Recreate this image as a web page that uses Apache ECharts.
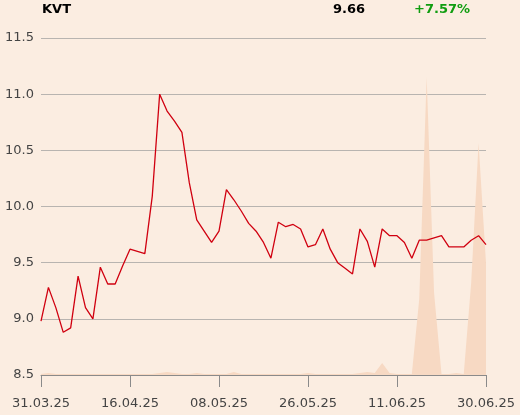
<!DOCTYPE html>
<html><head><meta charset="utf-8">
<script src="https://cdn.jsdelivr.net/npm/echarts@6/dist/echarts.min.js"></script>
<style>html,body{margin:0;padding:0;background:#fbede1;}#c{width:520px;height:415px;}</style>
</head><body><div id="c"></div>
<script>
const ticker = 'KVT';
const dates = ['31.03.25','01.04.25','02.04.25','03.04.25','04.04.25','07.04.25','08.04.25','09.04.25','10.04.25','11.04.25','14.04.25','15.04.25','16.04.25','17.04.25','22.04.25','23.04.25','24.04.25','25.04.25','28.04.25','29.04.25','30.04.25','05.05.25','06.05.25','07.05.25','08.05.25','09.05.25','12.05.25','13.05.25','14.05.25','15.05.25','16.05.25','19.05.25','20.05.25','21.05.25','22.05.25','23.05.25','26.05.25','27.05.25','28.05.25','29.05.25','30.05.25','02.06.25','03.06.25','04.06.25','05.06.25','06.06.25','09.06.25','10.06.25','11.06.25','12.06.25','13.06.25','16.06.25','17.06.25','18.06.25','20.06.25','23.06.25','24.06.25','25.06.25','26.06.25','27.06.25','30.06.25'];
const prices = [8.98,9.28,9.10,8.88,8.92,9.38,9.10,9.00,9.46,9.31,9.31,9.47,9.62,9.60,9.58,10.09,11.00,10.85,10.76,10.66,10.21,9.88,9.78,9.68,9.78,10.15,10.06,9.96,9.85,9.78,9.68,9.54,9.86,9.82,9.84,9.80,9.64,9.66,9.80,9.62,9.50,9.45,9.40,9.80,9.69,9.46,9.80,9.74,9.74,9.68,9.54,9.70,9.70,9.72,9.74,9.64,9.64,9.64,9.70,9.74,9.66];
const volumes = [100,200,100,100,100,100,100,100,100,100,100,100,100,100,100,100,200,300,200,100,100,200,100,100,100,100,300,100,100,100,100,100,100,100,100,100,200,100,100,100,100,100,100,200,300,200,1200,200,100,100,100,7600,29800,8200,100,100,200,100,9200,23200,11200];
const yTicks = [8.5, 9.0, 9.5, 10.0, 10.5, 11.0, 11.5];

const last = prices[prices.length-1];
const chg = (last/prices[0]-1)*100;
const chart = echarts.init(document.getElementById('c'), null, {renderer:'canvas'});
chart.setOption({
  backgroundColor:'#fbede1',
  animation:false,
  textStyle:{fontFamily:'DejaVu Sans'},
  graphic:[
    {type:'text', x:42, y:10, style:{text:ticker, font:'bold 13px DejaVu Sans', fill:'#000', textVerticalAlign:'middle', verticalAlign:'middle'}},
    {type:'text', x:365, y:10, style:{text:last.toFixed(2), font:'bold 13px DejaVu Sans', fill:'#000', textAlign:'right', align:'right', textVerticalAlign:'middle', verticalAlign:'middle'}},
    {type:'text', x:470, y:10, style:{text:(chg>=0?'+':'')+chg.toFixed(2)+'%', font:'bold 13px DejaVu Sans', fill:'#109d10', textAlign:'right', align:'right', textVerticalAlign:'middle', verticalAlign:'middle'}}
  ],
  grid:{left:41, right:34, top:38, bottom:40},
  xAxis:{type:'category', data:dates, boundaryGap:false,
    axisLine:{lineStyle:{color:'#8a8a8a', width:1}},
    axisTick:{interval:11, length:12, lineStyle:{color:'#8a8a8a'}},
    axisLabel:{interval:11, margin:22, color:'#444', fontSize:13, fontFamily:'DejaVu Sans'},
    splitLine:{show:false}},
  yAxis:[
    {type:'value', min:yTicks[0], max:yTicks[yTicks.length-1], interval:0.5,
     axisLine:{show:false}, axisTick:{show:false},
     axisLabel:{margin:7, color:'#444', fontSize:13, fontFamily:'DejaVu Sans', formatter:v=>v.toFixed(1)},
     splitLine:{lineStyle:{color:'#b8b4b0', width:1}}},
    {type:'value', min:0, max:33700, show:false, splitLine:{show:false}}
  ],
  series:[
    {type:'line', yAxisIndex:1, data:volumes, symbol:'none', lineStyle:{width:0}, areaStyle:{color:'#f7d9c3', opacity:1}, z:1},
    {type:'line', data:prices, symbol:'none', lineStyle:{color:'#d00010', width:1.3}, z:3}
  ]
});
</script></body></html>
